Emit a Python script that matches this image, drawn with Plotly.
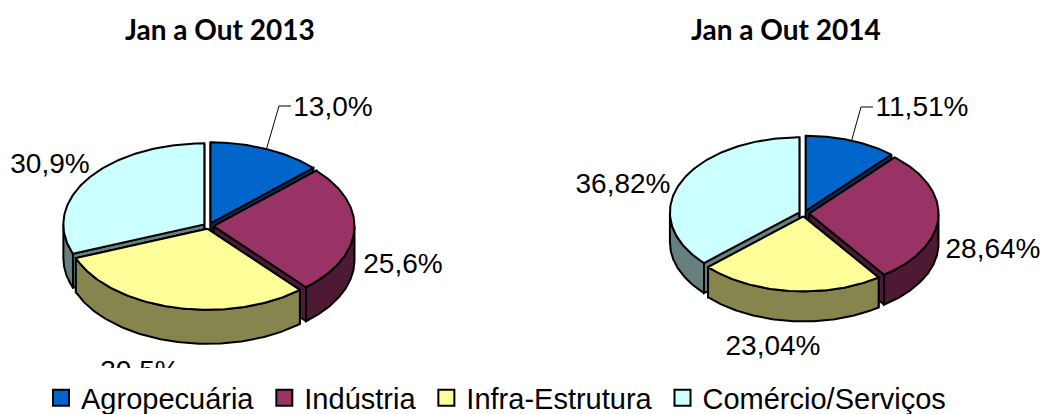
import numpy as np
import plotly.graph_objects as go

categories = ["Agropecuária", "Indústria", "Infra-Estrutura", "Comércio/Serviços"]
values_2013 = [13.0, 25.6, 30.5, 30.9]
values_2014 = [11.51, 28.64, 23.04, 36.82]
labels_2013 = ["13,0%", "25,6%", "30,5%", "30,9%"]
labels_2014 = ["11,51%", "28,64%", "23,04%", "36,82%"]
title_2013 = "Jan a Out 2013"
title_2014 = "Jan a Out 2014"

top_colors = ["#0066CC", "#993366", "#FFFF99", "#CCFFFF"]
side_colors = ["#003366", "#4D1933", "#85854D", "#668080"]

W, H = 1044, 414
LINE = 2
GAP = 5


def wedge_geometry(values, cx, cy, rx, ry):
    total = sum(values)
    start = 0.0
    out = []
    for i, v in enumerate(values):
        sweep = 2 * np.pi * v / total
        mid = start + sweep / 2
        ox = cx + GAP * np.sin(mid)
        oy = cy - GAP * (ry / rx) * np.cos(mid)
        out.append((i, start, start + sweep, mid, ox, oy))
        start += sweep
    return out


def rim(t, ox, oy, rx, ry):
    return ox + rx * np.sin(t), oy - ry * np.cos(t)


def poly(fig, x, y, color):
    fig.add_trace(go.Scatter(
        x=list(x), y=list(y), mode="lines", fill="toself", fillcolor=color,
        line=dict(color="black", width=LINE), hoverinfo="skip", showlegend=False,
    ))


def draw_pie(fig, values, labels, cx, cy, rx, ry, depth, label_pos, leader_elbow):
    geom = wedge_geometry(values, cx, cy, rx, ry)
    for i, t0, t1, mid, ox, oy in sorted(geom, key=lambda g: -np.cos(g[3])):
        for edge in (t0, t1):
            ex, ey = rim(edge, ox, oy, rx, ry)
            poly(fig, [ox, ex, ex, ox, ox], [oy, ey, ey + depth, oy + depth, oy], side_colors[i])
        a, b = max(t0, np.pi / 2), min(t1, 3 * np.pi / 2)
        if b > a:
            t = np.linspace(a, b, 90)
            sx, sy = rim(t, ox, oy, rx, ry)
            poly(fig, np.r_[sx, sx[::-1], sx[0]], np.r_[sy, sy[::-1] + depth, sy[0]], side_colors[i])
        t = np.linspace(t0, t1, 120)
        sx, sy = rim(t, ox, oy, rx, ry)
        poly(fig, np.r_[ox, sx, ox], np.r_[oy, sy, oy], top_colors[i])

    # leader line of the first slice
    i, t0, t1, mid, ox, oy = geom[0]
    lx, ly = rim(mid, ox, oy, rx, ry)
    ex, ey = leader_elbow
    fig.add_trace(go.Scatter(
        x=[lx, ex, ex + 12], y=[ly, ey, ey], mode="lines",
        line=dict(color="black", width=1), hoverinfo="skip", showlegend=False,
    ))
    fig.add_trace(go.Scatter(
        x=[p[0] for p in label_pos], y=[p[1] for p in label_pos], text=labels,
        mode="text", textposition="middle center",
        textfont=dict(family="Liberation Sans", size=28, color="black"),
        hoverinfo="skip", showlegend=False,
    ))


fig = go.Figure()
draw_pie(fig, values_2013, labels_2013, 208.5, 226, 141, 81, 34,
         [(333, 109), (403, 266), (140, 373), (50, 166)], (279, 106))
draw_pie(fig, values_2014, labels_2014, 804, 213.5, 129.5, 75, 30,
         [(922, 109), (993, 251), (773, 348), (623, 186)], (861, 107))

for name, color in zip(categories, top_colors):
    fig.add_trace(go.Scatter(
        x=[None], y=[None], mode="markers", name=name + "\u2009",
        marker=dict(symbol="square", size=16, color=color, line=dict(color="black", width=2)),
    ))

for text, x in ((title_2013, 220), (title_2014, 786)):
    fig.add_annotation(x=x, y=29, text=f"<b>{text}</b>", showarrow=False,
                       font=dict(family="Lato", size=28, color="black"))

fig.update_layout(
    width=W, height=H, autosize=False,
    margin=dict(l=0, r=0, t=0, b=0, autoexpand=False),
    paper_bgcolor="white", plot_bgcolor="white",
    xaxis=dict(range=[0, W], visible=False, fixedrange=True),
    yaxis=dict(range=[H, 0], visible=False, fixedrange=True),
    legend=dict(orientation="h", x=41 / W, xanchor="left", y=1 - 398 / H, yanchor="middle",
                bgcolor="rgba(0,0,0,0)", font=dict(family="Liberation Sans", size=29, color="black")),
    shapes=[dict(type="rect", xref="x", yref="y", x0=0, x1=W, y0=368, y1=H,
                 fillcolor="white", line=dict(width=0), layer="above")],
)
fig.write_html("out.html", config={"displayModeBar": False},
               post_script="document.body.style.margin='0';document.documentElement.style.overflow='hidden';")
